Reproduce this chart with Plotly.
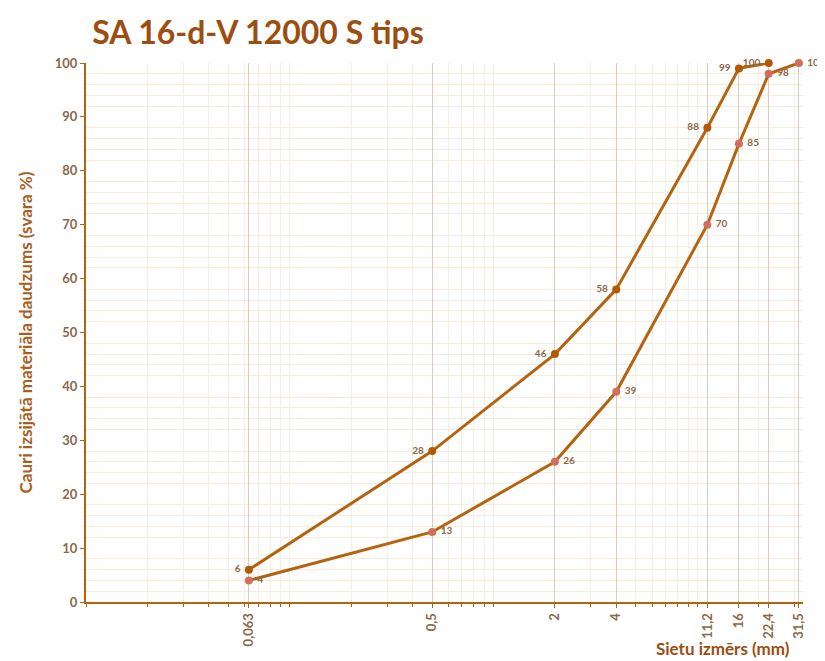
import plotly.graph_objects as go
import numpy as np

# sieve sizes (mm) and cumulative passing (%)
sieve_upper = [0.063, 0.5, 2, 4, 11.2, 16, 22.4]
pass_upper = [6, 28, 46, 58, 88, 99, 100]

sieve_lower = [0.063, 0.5, 2, 4, 11.2, 16, 22.4, 31.5]
pass_lower = [4, 13, 26, 39, 70, 85, 98, 100]

tick_vals = [0.063, 0.5, 2, 4, 11.2, 16, 22.4, 31.5]
tick_text = ["0,063", "0,5", "2", "4", "11,2", "16", "22,4", "31,5"]

BROWN = "#B4640F"
TEXT = "#8A6848"
FONT = "Lato"

minor_x = [m * 10 ** e for e in (-2, -1, 0, 1) for m in range(1, 10) if m * 10 ** e <= 32]

fig = go.Figure()

fig.add_trace(go.Scatter(
    x=sieve_upper, y=pass_upper, mode="lines+markers+text",
    line=dict(color=BROWN, width=3),
    marker=dict(color="#B35A00", size=8),
    text=[f"{v} " for v in pass_upper], textposition="middle left",
    textfont=dict(family=FONT, size=10, color=TEXT, weight="bold"),
    cliponaxis=False, showlegend=False,
))

fig.add_trace(go.Scatter(
    x=sieve_lower, y=pass_lower, mode="lines+markers+text",
    line=dict(color=BROWN, width=3),
    marker=dict(color="#D0705A", size=8),
    text=[f" {v}" for v in pass_lower], textposition="middle right",
    textfont=dict(family=FONT, size=10, color=TEXT, weight="bold"),
    cliponaxis=False, showlegend=False,
))

# the page body adds 8px, so the figure is sized to fill the rest
fig.update_layout(
    width=817, height=653,
    margin=dict(l=78, r=22, t=55, b=59),
    paper_bgcolor="white", plot_bgcolor="white",
    font=dict(family=FONT, color=TEXT),
    title=dict(text="<b>SA 16-d-V 12000 S tips</b>", x=0.103, xanchor="left",
               y=0.962, yanchor="middle",
               font=dict(family=FONT, size=32, color="#9B4E10")),
)

fig.update_xaxes(
    type="log", range=[-2, np.log10(33)],
    tickvals=tick_vals, ticktext=tick_text, tickangle=-90,
    tickfont=dict(family=FONT, size=13, color=TEXT, weight="bold"),
    showgrid=True, gridcolor="#D9CBBE", gridwidth=1,
    showline=True, linecolor=BROWN, linewidth=2,
    ticks="outside", ticklen=4, tickcolor=BROWN,
    minor=dict(tickvals=minor_x, showgrid=True, gridcolor="#F6EEE6",
               ticks="outside", ticklen=3, tickcolor=BROWN),
    zeroline=False,
)

fig.update_yaxes(
    range=[0, 100], dtick=10,
    tickfont=dict(family=FONT, size=13, color=TEXT, weight="bold"),
    showgrid=False,
    showline=True, linecolor=BROWN, linewidth=2,
    ticks="outside", ticklen=4, tickcolor=BROWN,
    minor=dict(dtick=2, showgrid=True, gridcolor="#F6EBDD"),
    title=dict(text="<b>Cauri izsijātā materiāla daudzums (svara %)</b>",
               font=dict(family=FONT, size=17, color="#A85E1E"), standoff=18),
    zeroline=False,
)

fig.add_annotation(
    text="<b>Sietu izmērs (mm)</b>", xref="paper", yref="paper",
    x=0.985, y=-0.087, xanchor="right", yanchor="middle", showarrow=False,
    font=dict(family=FONT, size=17, color="#9B4E10"),
)

fig.write_html("out.html")
